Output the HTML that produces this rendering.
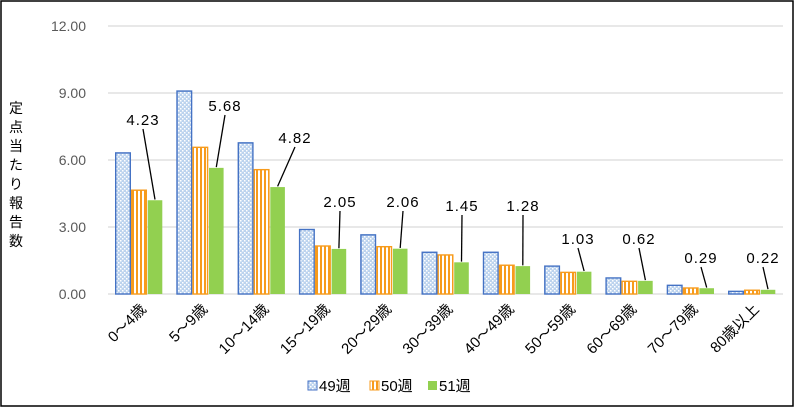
<!DOCTYPE html><html><head><style>body{margin:0;background:#fff}svg{display:block}text{font-family:"Liberation Sans","Noto Sans CJK JP",sans-serif}</style></head><body>
<svg width="795" height="408" viewBox="0 0 795 408">
<defs>
<pattern id="p49" width="4" height="4" patternUnits="userSpaceOnUse"><rect width="4" height="4" fill="#bcd3ee"/><rect x="0" y="0" width="1.5" height="1.5" fill="#fff"/><rect x="2" y="2" width="1.5" height="1.5" fill="#fff"/></pattern>
<pattern id="p50" width="4" height="4" patternUnits="userSpaceOnUse"><rect width="4" height="4" fill="#fff"/><rect x="0" width="2" height="4" fill="#f79b1c"/></pattern>
</defs>
<rect x="1" y="1" width="792" height="405" fill="#fff" stroke="#000" stroke-width="1.5"/>
<g stroke="#d9d9d9" stroke-width="1.3">
<line x1="108" x2="783" y1="26" y2="26"/><line x1="108" x2="783" y1="93" y2="93"/><line x1="108" x2="783" y1="160" y2="160"/><line x1="108" x2="783" y1="227" y2="227"/><line x1="108" x2="783" y1="294" y2="294"/>
</g>
<g font-size="14" fill="#595959" text-anchor="end">
<text x="86" y="31">12.00</text><text x="86" y="98">9.00</text><text x="86" y="165">6.00</text><text x="86" y="232">3.00</text><text x="86" y="299">0.00</text>
</g>
<g font-size="14" fill="#000" text-anchor="middle">
<text x="16" y="113">定</text><text x="16" y="132">点</text><text x="16" y="151">当</text><text x="16" y="170">た</text><text x="16" y="189">り</text><text x="16" y="208">報</text><text x="16" y="227">告</text><text x="16" y="246">数</text>
</g>
<g id="bars"></g>
<g id="lbl" font-size="15" fill="#000"></g>
<g font-size="15" fill="#000">
<rect x="308" y="381" width="9" height="9" fill="url(#p49)" stroke="#4472c4"/><text x="319" y="391">49週</text>
<rect x="370" y="381" width="9" height="9" fill="url(#p50)" stroke="#f79b1c"/><text x="381" y="391">50週</text>
<rect x="428" y="381" width="9" height="9" fill="#92d050"/><text x="439" y="391">51週</text>
</g>
</svg>
<script>
var d=[[6.35,4.68,4.23],[9.12,6.6,5.68],[6.8,5.6,4.82],[2.92,2.18,2.05],[2.68,2.15,2.06],[1.9,1.78,1.45],[1.9,1.32,1.28],[1.28,1.0,1.03],[0.75,0.6,0.62],[0.42,0.3,0.29],[0.15,0.2,0.22]];
var cats=["0～4歳","5～9歳","10～14歳","15～19歳","20～29歳","30～39歳","40～49歳","50～59歳","60～69歳","70～79歳","80歳以上"];
var lp=[[143,125],[225,111],[295,143],[340,207],[403,207],[462,211],[523,211],[578,244],[639,244],[701,263],[763,263]];
var ns="http://www.w3.org/2000/svg",b=document.getElementById("bars"),L=document.getElementById("lbl");
function el(t,a,p,tx){var e=document.createElementNS(ns,t);for(var k in a)e.setAttribute(k,a[k]);if(tx)e.textContent=tx;p.appendChild(e);return e;}
var s=22.33,bw=16;
d.forEach(function(v,i){var c=139+i*61.3;
 var fills=["url(#p49)","url(#p50)","#92d050"],st=["#4472c4","#f79b1c","none"];
 v.forEach(function(y,j){var x=c-bw*1.5+j*bw,h=y*s;el("rect",{x:x+0.7,y:294-h+0.7,width:bw-1.4,height:h-0.7,fill:fills[j],stroke:st[j],"stroke-width":j<2?1.4:0},b);});
 var gx=c+bw, gy=294-v[2]*s;
 el("line",{x1:lp[i][0],y1:lp[i][1]+4,x2:gx,y2:gy,stroke:"#000","stroke-width":1.3},b);
 el("text",{x:lp[i][0],y:lp[i][1],"text-anchor":"middle","letter-spacing":"1"},L,v[2].toFixed(2));
 el("text",{x:0,y:0,"font-size":15,"text-anchor":"end",transform:"translate("+(c+8)+",310) rotate(-45)"},L,cats[i]);
});
</script>
</body></html>
